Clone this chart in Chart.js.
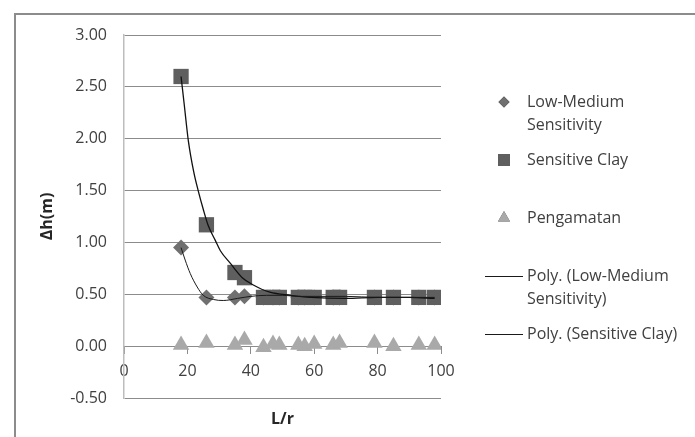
<!DOCTYPE html>
<html><head><meta charset="utf-8">
<script src="https://cdn.jsdelivr.net/npm/chart.js@4"></script>
<style>html,body{margin:0;padding:0;background:#fff}#wrap{width:695px;height:437px;position:relative}</style>
</head><body><div id="wrap"><canvas id="c" width="695" height="437"></canvas></div>
<script>
// ---- data ----
const lrValues      = [18, 26, 35, 38, 44, 47, 49, 55, 57, 60, 66, 68, 79, 85, 93, 98];
const lowMedium     = [0.95, 0.47, 0.47, 0.48, 0.47, 0.47, 0.47, 0.47, 0.47, 0.47, 0.47, 0.47, 0.47, 0.47, 0.47, 0.47];
const sensitiveClay = [2.60, 1.17, 0.71, 0.66, 0.47, 0.47, 0.47, 0.47, 0.47, 0.47, 0.47, 0.47, 0.47, 0.47, 0.47, 0.47];
const pengamatan    = [0.01, 0.03, 0.01, 0.06, -0.01, 0.02, 0.01, 0.01, 0.00, 0.02, 0.01, 0.03, 0.03, 0.00, 0.01, 0.01];

// polynomial trend lines
const lmTrendX   = [18, 19.3, 20.9, 23.1, 25, 28.2, 31.3, 35.8, 40, 45, 50, 55, 60, 70, 80, 90, 98];
const lmTrendY   = [0.95, 0.83, 0.70, 0.57, 0.49, 0.45, 0.44, 0.46, 0.48, 0.49, 0.49, 0.48, 0.48, 0.48, 0.47, 0.47, 0.47];
const sensTrendX = [18, 19, 20.3, 22, 23.4, 25, 26.6, 28.8, 30.4, 33.5, 37.3, 40.8, 46, 52.5, 59, 70, 80, 90, 98];
const sensTrendY = [2.60, 2.33, 1.98, 1.68, 1.50, 1.32, 1.16, 1.02, 0.92, 0.80, 0.66, 0.59, 0.52, 0.49, 0.47, 0.46, 0.47, 0.47, 0.46];

const seriesLabels = ['Low-Medium\nSensitivity', 'Sensitive Clay', 'Pengamatan', 'Poly. (Low-Medium\nSensitivity)', 'Poly. (Sensitive Clay)'];
const xTicks = [0, 20, 40, 60, 80, 100];
const yTicks = [-0.5, 0, 0.5, 1, 1.5, 2, 2.5, 3];
const xTitle = 'L/r';
const yTitle = 'Δh(m)';

const pts = (xs, ys) => xs.map((x, i) => ({x, y: ys[i]}));
const FONT = "'Open Sans', sans-serif";

const frame = {
  id: 'frame',
  beforeDraw(chart) {
    const c = chart.ctx;
    c.save();
    c.strokeStyle = '#8c8c8c';
    c.lineWidth = 2;
    c.beginPath();
    c.moveTo(15, 437); c.lineTo(15, 14); c.lineTo(695, 14);
    c.stroke();
    c.restore();
  }
};

const customLegend = {
  id: 'customLegend',
  afterDraw(chart) {
    const c = chart.ctx;
    c.save();
    c.font = '16px ' + FONT;
    c.textBaseline = 'middle';
    c.textAlign = 'left';
    chart.data.datasets.forEach((ds, i) => {
      const y = 102 + i * 58;
      if (ds.showLine) {
        c.strokeStyle = '#1a1a1a';
        c.lineWidth = 1;
        c.beginPath(); c.moveTo(485, y + 0.5); c.lineTo(523, y + 0.5); c.stroke();
      } else {
        Chart.helpers.drawPoint(c, {pointStyle: ds.pointStyle, radius: ds.legendRadius, borderWidth: 0}, 504, y);
        c.fillStyle = ds.backgroundColor;
        c.fill();
      }
      c.fillStyle = '#404040';
      ds.label.split('\n').forEach((t, k) => c.fillText(t, 527, y + k * 23));
    });
    c.restore();
  }
};

new Chart(document.getElementById('c'), {
  type: 'scatter',
  data: {
    datasets: [
      {label: seriesLabels[0], data: pts(lrValues, lowMedium), pointStyle: 'rectRot', pointRadius: 8,
       backgroundColor: '#707070', borderWidth: 0, order: 3, legendRadius: 5.5},
      {label: seriesLabels[1], data: pts(lrValues, sensitiveClay), pointStyle: 'rect', pointRadius: 10.8,
       backgroundColor: '#5f5f5f', borderWidth: 0, order: 2, legendRadius: 8.5},
      {label: seriesLabels[2], data: pts(lrValues, pengamatan), pointStyle: 'triangle', pointRadius: 9.5,
       backgroundColor: '#a9a9a9', borderWidth: 0, order: 1, legendRadius: 7},
      {label: seriesLabels[3], data: pts(lmTrendX, lmTrendY), showLine: true, pointRadius: 0,
       borderColor: '#1a1a1a', borderWidth: 1, cubicInterpolationMode: 'monotone', order: 0},
      {label: seriesLabels[4], data: pts(sensTrendX, sensTrendY), showLine: true, pointRadius: 0,
       borderColor: '#111111', borderWidth: 1.3, cubicInterpolationMode: 'monotone', order: 0}
    ]
  },
  options: {
    responsive: false,
    devicePixelRatio: 1,
    animation: false,
    events: [],
    layout: {padding: {left: 14, top: 35, right: 254, bottom: 39}},
    plugins: {legend: {display: false}, tooltip: {enabled: false}},
    scales: {
      x: {
        type: 'linear', position: {y: 0}, min: 0, max: 100,
        afterBuildTicks: s => { s.ticks = xTicks.map(v => ({value: v})); },
        ticks: {font: {family: FONT, size: 16}, color: '#404040', padding: 9, maxRotation: 0},
        grid: {drawOnChartArea: false, drawTicks: true, tickLength: 7, color: '#8c8c8c'},
        border: {display: true, color: '#8c8c8c'},
        title: {display: true, text: xTitle, font: {family: FONT, size: 16, weight: 'bold'}, color: '#262626',
                padding: {top: 19, bottom: 0}}
      },
      y: {
        type: 'linear', min: -0.5, max: 3,
        afterBuildTicks: s => { s.ticks = yTicks.map(v => ({value: v})); },
        afterFit: s => { s.width = 110; },
        ticks: {font: {family: FONT, size: 16}, color: '#404040', padding: 17,
                callback: v => Number(v).toFixed(2)},
        grid: {color: '#8c8c8c', lineWidth: 1, drawTicks: false},
        border: {display: true, color: '#bdbdbd', width: 1.5},
        title: {display: true, text: yTitle, font: {family: FONT, size: 16, weight: 'bold'}, color: '#262626',
                padding: {top: 24, bottom: 0}}
      }
    }
  },
  plugins: [frame, customLegend]
});
</script>
</body></html>
